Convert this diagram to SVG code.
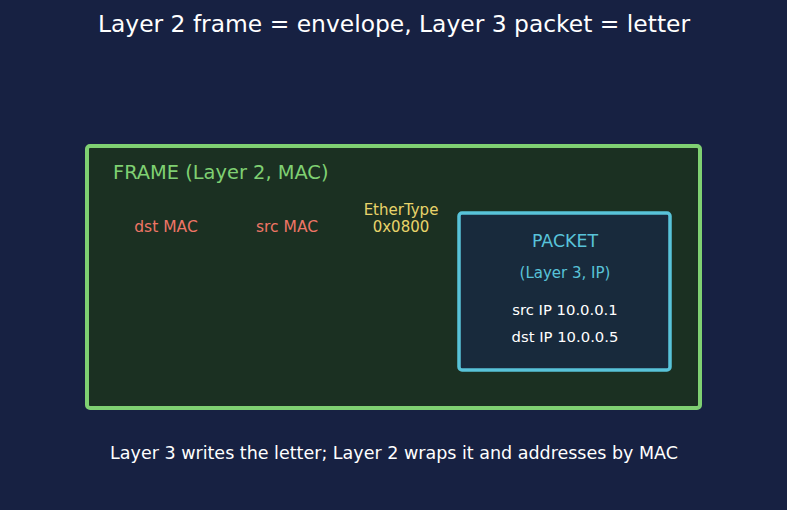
<svg xmlns="http://www.w3.org/2000/svg" width="787" height="510" viewBox="0 0 787 510">
<style>
text{font-family:"DejaVu Sans","Liberation Sans",sans-serif}
.mac{fill:#ee7566;font-size:15.5px;text-anchor:middle}
.eth{fill:#e8d36a;font-size:15px;text-anchor:middle}
.ip{fill:#ffffff;font-size:14.8px;text-anchor:middle}
</style>
<rect width="787" height="510" fill="#172142"/>
<text x="394" y="32" font-size="23.4" fill="#ffffff" text-anchor="middle">Layer 2 frame = envelope, Layer 3 packet = letter</text>
<g id="frame">
<rect x="87" y="146" width="613" height="262" rx="3" fill="#1b3022" stroke="#7fd072" stroke-width="4"/>
<text x="113" y="179" font-size="19.4" fill="#7fd072">FRAME (Layer 2, MAC)</text>
<text class="mac" x="166" y="232">dst MAC</text>
<text class="mac" x="287" y="232">src MAC</text>
<text class="eth" x="401" y="215">EtherType</text>
<text class="eth" x="401" y="232">0x0800</text>
</g>
<g id="packet">
<rect x="459" y="213" width="211" height="157" rx="3" fill="#182a3c" stroke="#58c3d9" stroke-width="3.5"/>
<text x="565" y="247" font-size="17.4" fill="#58c3d9" text-anchor="middle">PACKET</text>
<text x="565" y="278" font-size="15" fill="#58c3d9" text-anchor="middle">(Layer 3, IP)</text>
<text class="ip" x="565" y="315">src IP 10.0.0.1</text>
<text class="ip" x="565" y="342">dst IP 10.0.0.5</text>
</g>
<g id="connectors"/>
<text x="394" y="459" font-size="17.5" fill="#ffffff" text-anchor="middle">Layer 3 writes the letter; Layer 2 wraps it and addresses by MAC</text>
</svg>
